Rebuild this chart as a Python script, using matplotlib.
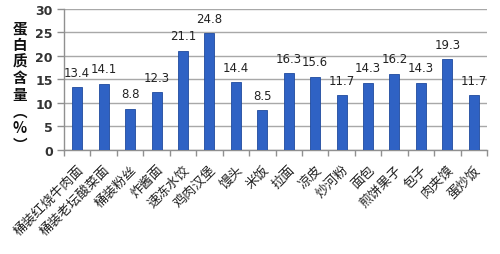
import numpy as np
import matplotlib
matplotlib.use('Agg')
from matplotlib import pyplot as plt

plt.rcParams['font.family'] = ['Noto Sans CJK SC', 'DejaVu Sans']

foods = ['桶装红烧牛肉面', '桶装老坛酸菜面', '桶装粉丝', '炸酱面', '速冻水饺', '鸡肉汉堡',
         '馒头', '米饭', '拉面', '凉皮', '炒河粉', '面包', '煎饼果子', '包子', '肉夹馍', '蛋炒饭']
protein = [13.4, 14.1, 8.8, 12.3, 21.1, 24.8, 14.4, 8.5, 16.3, 15.6, 11.7, 14.3, 16.2, 14.3, 19.3, 11.7]
yticks = [0, 5, 10, 15, 20, 25, 30]

fig = plt.figure(figsize=(5, 2.55), dpi=100)
ax = fig.add_axes([0.128, 0.408, 0.846, 0.553])

x = np.arange(len(foods))
bars = ax.bar(x, protein, width=0.38, color='#2f62c4', edgecolor='#1f4a9e', linewidth=0.6, zorder=3)

for xi, v in zip(x, protein):
    ax.annotate(f'{v}', (xi, v), xytext=(0, 6), textcoords='offset points',
                ha='center', va='bottom', fontsize=8.5, family='DejaVu Sans', color='#222222')

ax.set_xlim(-0.5, len(foods) - 0.5)
ax.set_ylim(0, 30)
ax.set_yticks(yticks)
ax.set_yticklabels([str(t) for t in yticks], fontsize=9, fontweight='bold', family='DejaVu Sans', color='#333333')
ax.yaxis.grid(True, color='#a8a8a8', linewidth=1.0, zorder=0)

# category ticks sit at the boundaries, labels under the bars
ax.set_xticks(np.arange(len(foods) + 1) - 0.5)
ax.set_xticklabels([])
ax.set_xticks(x, minor=True)
ax.set_xticklabels(foods, minor=True, rotation=45, ha='right', rotation_mode='anchor',
                   fontsize=9.5, color='#222222')
ax.tick_params(axis='x', which='minor', length=0, pad=9)
ax.tick_params(axis='x', which='major', length=4, color='#909090', width=1)
ax.tick_params(axis='y', length=5, color='#909090', width=1, pad=3)

for s in ['top', 'right']:
    ax.spines[s].set_visible(False)
for s in ['left', 'bottom']:
    ax.spines[s].set_color('#909090')
    ax.spines[s].set_linewidth(1)

fig.text(0.04, 0.66, '蛋\n白\n质\n含\n量\n︵\n%\n︶', ha='center', va='center',
         fontsize=10.5, fontweight='bold', linespacing=1.05, color='#111111')

fig.savefig('out.png', dpi=100)
